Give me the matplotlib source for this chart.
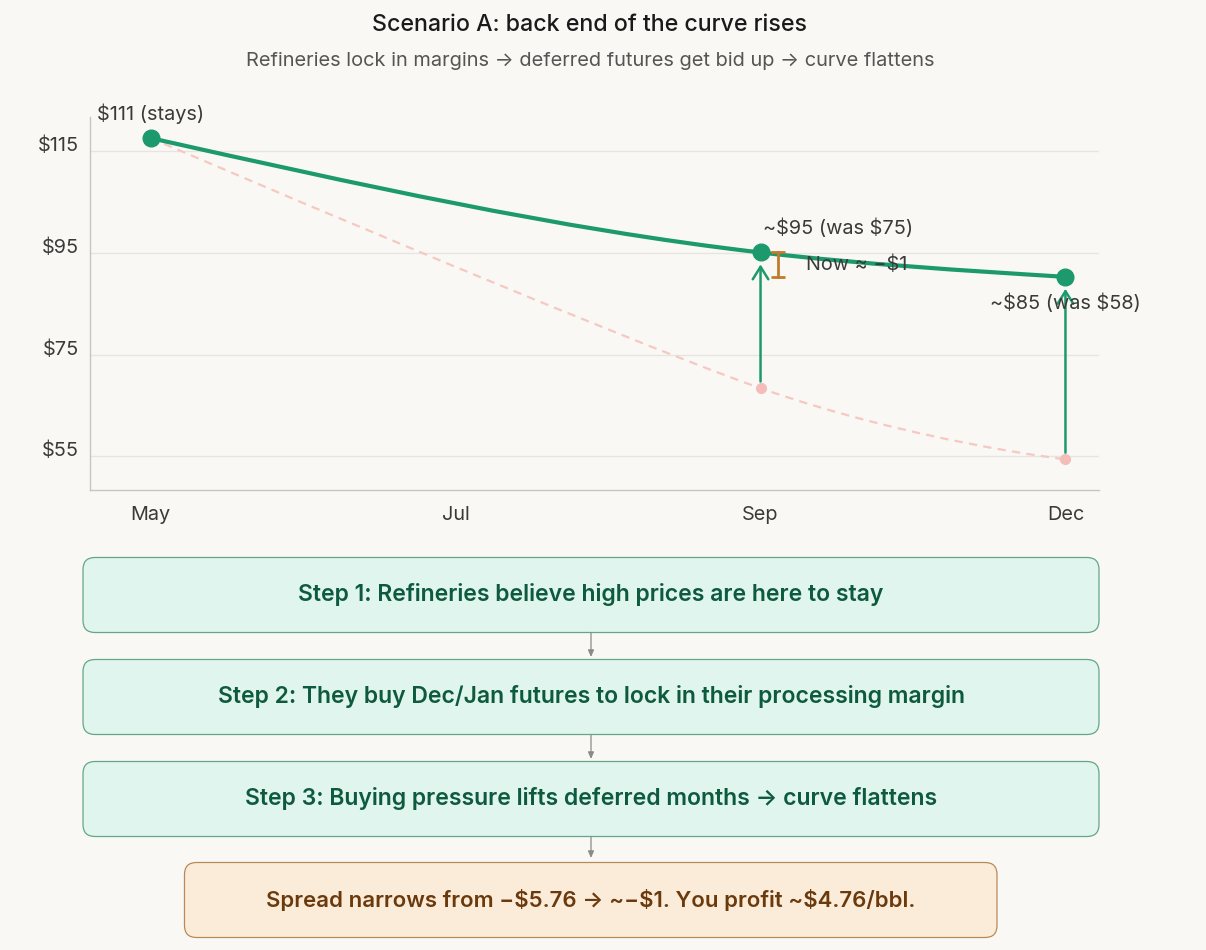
import matplotlib
matplotlib.use("Agg")
import matplotlib.pyplot as plt
import numpy as np
from matplotlib.path import Path
from matplotlib.patches import PathPatch, FancyBboxPatch
import matplotlib.transforms as mtransforms

plt.rcParams['font.family'] = ['Inter', 'DejaVu Sans']
plt.rcParams['lines.scale_dashes'] = False

# ---------------- data ----------------
tick_months = ["May", "Jul", "Sep", "Dec"]
point_months = ["May", "Sep", "Dec"]
new_curve = [117.6, 95.1, 90.3]     # curve after deferred months are bid up
old_curve = [117.6, 68.4, 54.4]     # original curve (faded)
y_ticks = [55, 75, 95, 115]
y_tick_labels = ["$55", "$75", "$95", "$115"]
point_labels = ["$111 (stays)", "~$95 (was $75)", "~$85 (was $58)"]
spread_label = "Now \u2248 \u2212$1"
title = "Scenario A: back end of the curve rises"
subtitle = "Refineries lock in margins \u2192 deferred futures get bid up \u2192 curve flattens"
steps = [
    "Step 1: Refineries believe high prices are here to stay",
    "Step 2: They buy Dec/Jan futures to lock in their processing margin",
    "Step 3: Buying pressure lifts deferred months \u2192 curve flattens",
]
result = "Spread narrows from \u2212$5.76 \u2192 ~\u2212$1. You profit ~$4.76/bbl."

# ---------------- style ----------------
BG = "#faf8f4"
GREEN = "#1c9a6d"
PINK = "#f5c9c2"
PINK_DOT = "#f4bdb9"
ORANGE = "#c27b2c"
TEXT = "#3a3a3a"
GRID = "#e8e5e0"
SPINE = "#c8c5bf"
FS = 14.3

W, H = 1206, 950
fig = plt.figure(figsize=(W / 100, H / 100), dpi=100)
fig.patch.set_facecolor(BG)

ax = fig.add_axes([89.7 / W, (H - 490.3) / H, (1099 - 89.7) / W, (490.3 - 117.3) / H])
ax.set_facecolor(BG)

tick_pos = {m: 2 * i for i, m in enumerate(tick_months)}
xs = np.array([tick_pos[m] for m in point_months], dtype=float)


def monotone_path(x, y):
    x = np.asarray(x, float); y = np.asarray(y, float)
    n = len(x)
    h = np.diff(x); s = np.diff(y) / h
    t = np.zeros(n)
    for i in range(1, n - 1):
        p = (s[i - 1] * h[i] + s[i] * h[i - 1]) / (h[i - 1] + h[i])
        t[i] = (np.sign(s[i - 1]) + np.sign(s[i])) * min(abs(s[i - 1]), abs(s[i]), 0.5 * abs(p))
    t[0] = (3 * s[0] - t[1]) / 2
    t[-1] = (3 * s[-1] - t[-2]) / 2
    verts = [(x[0], y[0])]; codes = [Path.MOVETO]
    for i in range(n - 1):
        dx = h[i] / 3
        verts += [(x[i] + dx, y[i] + dx * t[i]), (x[i + 1] - dx, y[i + 1] - dx * t[i + 1]), (x[i + 1], y[i + 1])]
        codes += [Path.CURVE4] * 3
    return Path(verts, codes)


def cardinal_path(x, y, k=1 / 6):
    P = np.column_stack([x, y]).astype(float)
    n = len(P)
    verts = [tuple(P[0])]; codes = [Path.MOVETO]
    for i in range(n - 1):
        prev = P[i - 1] if i > 0 else P[1]
        nxt = P[i + 2] if i + 2 < n else P[n - 2]
        c1 = P[i] + k * (P[i + 1] - prev)
        c2 = P[i + 1] + k * (P[i] - nxt)
        verts += [tuple(c1), tuple(c2), tuple(P[i + 1])]
        codes += [Path.CURVE4] * 3
    return Path(verts, codes)


# grid
for yv in y_ticks:
    ax.axhline(yv, color=GRID, lw=1, zorder=0)

# old curve (faded, dashed)
ax.add_patch(PathPatch(cardinal_path(xs, old_curve), fill=False, edgecolor=PINK, lw=1.6,
                       linestyle=(0, (6, 4.5)), zorder=1))
ax.plot(xs[1:], old_curve[1:], 'o', color=PINK_DOT, markersize=7, zorder=2)

# new curve
ax.add_patch(PathPatch(monotone_path(xs, new_curve), fill=False, edgecolor=GREEN, lw=3,
                       capstyle='round', zorder=3))
ax.plot(xs, new_curve, 'o', color=GREEN, markersize=12, zorder=4)

# lift arrows
for i in (1, 2):
    ax.annotate("", xy=(xs[i], new_curve[i]), xytext=(xs[i], old_curve[i]),
                arrowprops=dict(arrowstyle="->,head_length=0.45,head_width=0.28", color=GREEN,
                                lw=1.8, shrinkA=4.8, shrinkB=8.6, mutation_scale=20), zorder=3)

# spread bracket
off = mtransforms.offset_copy(ax.transData, fig=fig, x=17, y=0, units='dots')
ax.plot([xs[1], xs[1]], [new_curve[1], new_curve[2]], color=ORANGE, lw=2,
        marker='_', markersize=10, mew=2, transform=off, zorder=5)
off_t = mtransforms.offset_copy(ax.transData, fig=fig, x=45, y=0, units='dots')
ax.text(xs[1], (new_curve[1] + new_curve[2]) / 2, spread_label, transform=off_t,
        ha='left', va='center', fontsize=FS, color=TEXT, zorder=6, parse_math=False)

# point labels
ax.annotate(point_labels[0], (xs[0], new_curve[0]), xytext=(0, 17.3), textcoords='offset points',
            ha='center', va='center', fontsize=FS, color=TEXT, parse_math=False)
ax.annotate(point_labels[1], (xs[1], new_curve[1]), xytext=(1.5, 17.3), textcoords='offset points',
            ha='left', va='center', fontsize=FS, color=TEXT, parse_math=False)
ax.annotate(point_labels[2], (xs[2], new_curve[2]), xytext=(0, -19), textcoords='offset points',
            ha='center', va='center', fontsize=FS, color=TEXT, parse_math=False)

ax.set_xlim(-0.40, 6.22)
ax.set_ylim(48.31, 121.69)
ax.set_xticks([tick_pos[m] for m in tick_months], tick_months)
ax.set_yticks(y_ticks, y_tick_labels)
ax.tick_params(length=0, labelsize=FS, labelcolor=TEXT)
ax.tick_params(axis='y', pad=7.7)
ax.tick_params(axis='x', pad=11.5)
for lab in ax.get_yticklabels():
    lab.set_verticalalignment('baseline')
for sp in ('top', 'right'):
    ax.spines[sp].set_visible(False)
for sp in ('left', 'bottom'):
    ax.spines[sp].set_color(SPINE)
    ax.spines[sp].set_linewidth(1)

# ---------------- overlay (title + flow) ----------------
ov = fig.add_axes([0, 0, 1, 1])
ov.set_xlim(0, W); ov.set_ylim(H, 0); ov.axis('off')

ov.text(590, 25, title, ha='center', va='center', fontsize=16.7, fontweight='medium', color="#1a1a1a")
ov.text(590, 60.5, subtitle, ha='center', va='center', fontsize=14.4, color="#555555")

box_tops = [557.5, 659.5, 761.5]
box_h = 75
for top, txt in zip(box_tops, steps):
    ov.add_patch(FancyBboxPatch((83, top), 1016, box_h, boxstyle="round,pad=0,rounding_size=12",
                                facecolor="#e0f5ee", edgecolor="#64a688", lw=0.9))
    ov.text(591, top + box_h / 2, txt, ha='center', va='center', fontsize=16.55,
            fontweight='semibold', color="#0e5a3e")
ov.add_patch(FancyBboxPatch((184.5, 862.5), 812.5, box_h, boxstyle="round,pad=0,rounding_size=12",
                            facecolor="#fbecda", edgecolor="#b98a59", lw=0.9))
ov.text(591, 862.5 + box_h / 2, result, ha='center', va='center', fontsize=16.0,
        fontweight='semibold', color="#6b3a0c")

arrow_tops = [632.5, 734.5, 836.5]
arrow_bots = [657, 759, 858]
for a, b in zip(arrow_tops, arrow_bots):
    ov.annotate("", xy=(591, b), xytext=(591, a),
                arrowprops=dict(arrowstyle="-|>,head_length=0.5,head_width=0.22", color="#8a8a8a",
                                lw=0.9, shrinkA=0, shrinkB=0, mutation_scale=8))

fig.savefig("out.png", dpi=100, facecolor=BG)
